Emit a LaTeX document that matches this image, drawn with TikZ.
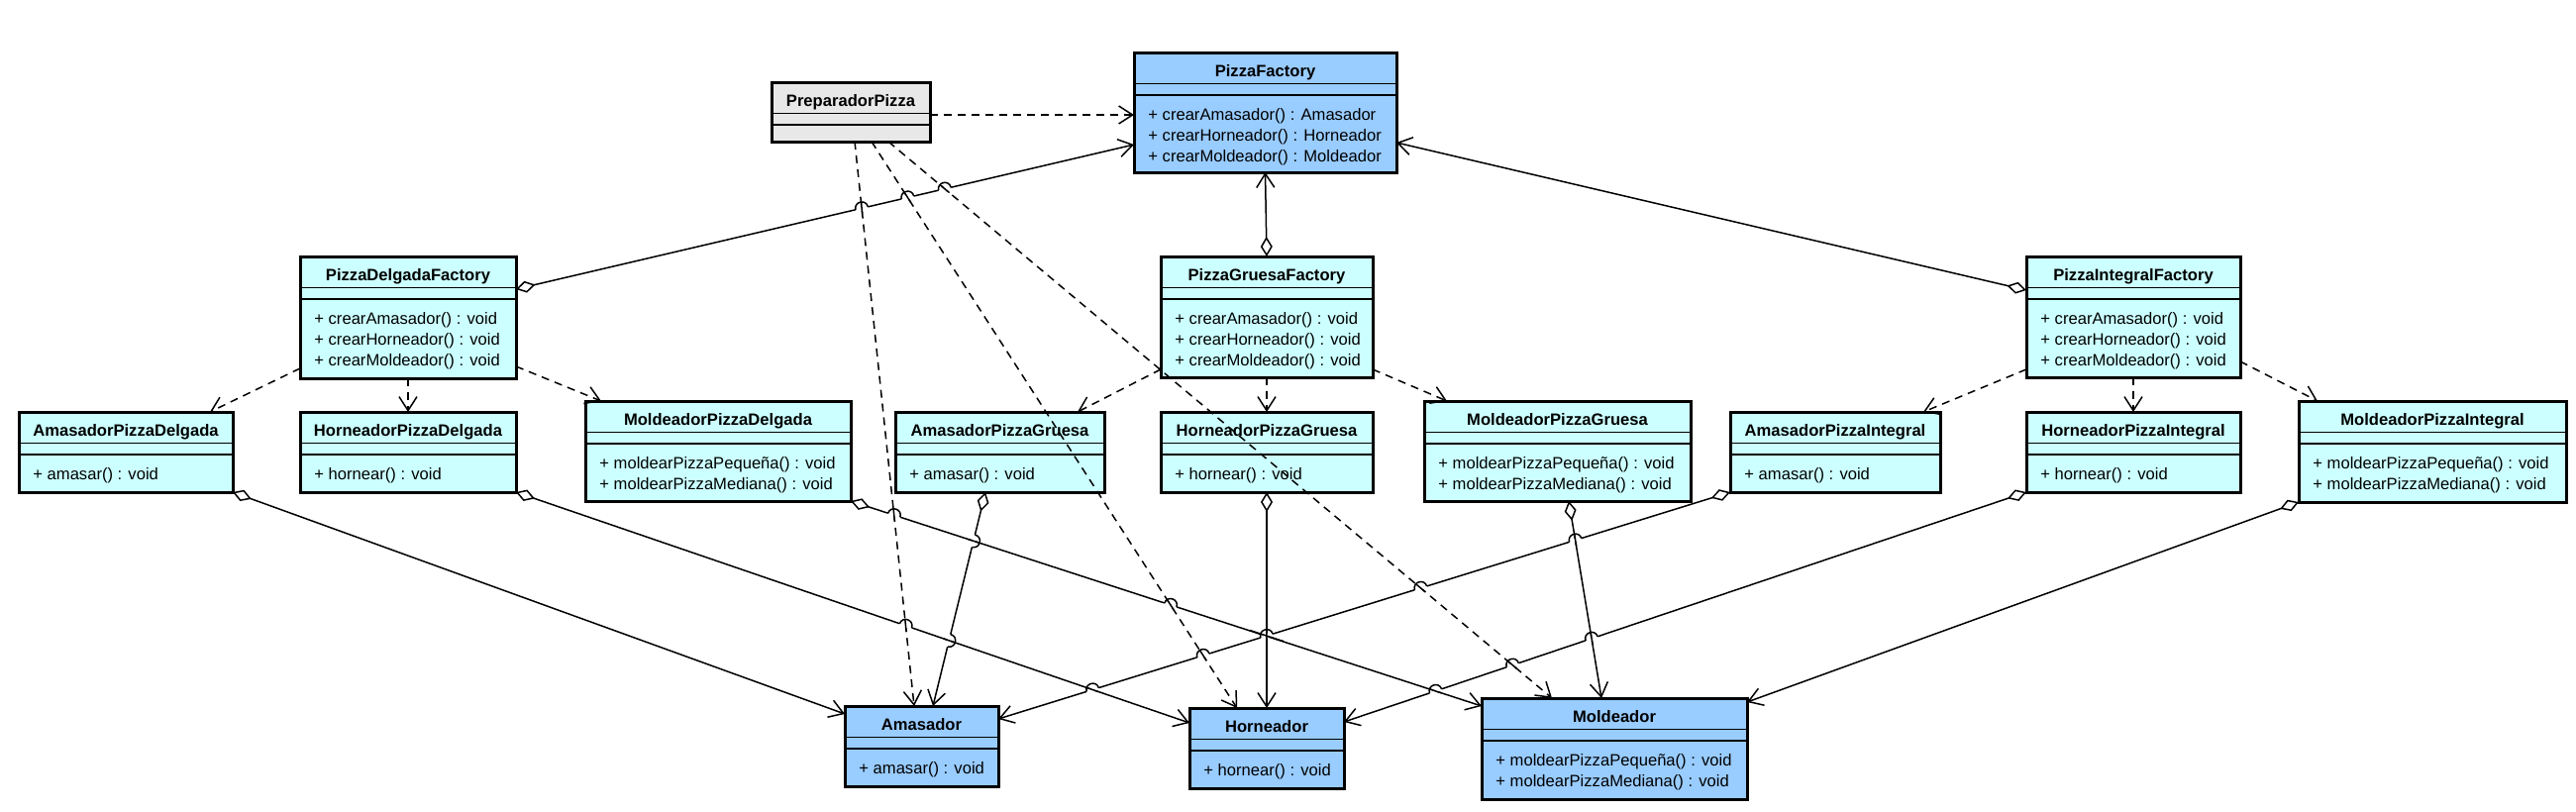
\documentclass[tikz,border=0pt]{standalone}
\usepackage{fontspec}
\setmainfont{Liberation Sans}
\usetikzlibrary{arrows.meta,calc,fit}

\definecolor{abstracta}{RGB}{153,204,255}
\definecolor{concreta}{RGB}{204,255,255}
\definecolor{cliente}{RGB}{232,232,232}

\tikzset{
	caja/.style={draw=black, line width=1.5pt, inner sep=0pt, outer sep=0pt},
	separador/.style={draw=black, line width=0.8pt},
	titulo/.style={font=\fontsize{8.3}{10}\selectfont\bfseries, inner sep=0pt},
	metodos/.style={font=\fontsize{8.3}{10.5}\selectfont, align=left, anchor=north west, inner sep=0pt},
	linea/.style={draw=black, line width=0.75pt},
	dependencia/.style={linea, dash pattern=on 4pt off 3pt, arrows={-Straight Barb[length=7pt,width=9pt]}},
	agregacion/.style={linea, arrows={Diamond[length=10pt,width=6pt,fill=white]-Straight Barb[length=7pt,width=9pt]}},
}

% caja de clase: nombre, x1, y1, x2, y2, relleno, titulo, metodos
\newcommand{\clase}[8]{%
	\node[caja, fill=#6, fit={(#2,#3) (#4,#5)}] (#1) {};
	\draw[separador] ([yshift=-15.75pt]#1.north west) -- ([yshift=-15.75pt]#1.north east);
	\draw[separador] ([yshift=-21.5pt]#1.north west) -- ([yshift=-21.5pt]#1.north east);
	\node[titulo, anchor=base] (#1-t) at ([yshift=-12.25pt]#1.north) {#7};
	\node[metodos] (#1-m) at ([xshift=7pt,yshift=-28pt]#1.north west) {#8};
}

% salto de la linea #1--#2 sobre la linea #3--#4
\newcommand{\salto}[4]{%
	\coordinate (cruce) at (intersection of #1--#2 and #3--#4);
	\draw[white, line width=1.8pt] ($(cruce)!3.2pt!(#1)$) -- ($(cruce)!3.2pt!(#2)$);
	\draw[linea] ($(cruce)!3pt!(#3)$) -- ($(cruce)!3pt!(#4)$);
	\draw[linea] ($(cruce)!3.2pt!(#1)$) to[bend left=90, looseness=1.7] ($(cruce)!3.2pt!(#2)$);
}

\begin{document}
\begin{tikzpicture}[x=0.5pt, y=-0.5pt]
	\useasboundingbox (0,0) rectangle (2601,819);

	% cliente y fabricas
	\clase{prep}{779}{83}{939}{143}{cliente}{PreparadorPizza}{}
	\clase{pf}{1145}{53}{1410}{174}{abstracta}{PizzaFactory}{+ crearAmasador() : Amasador\\+ crearHorneador() : Horneador\\+ crearMoldeador() : Moldeador}
	\clase{dfac}{303}{259}{521}{382}{concreta}{PizzaDelgadaFactory}{+ crearAmasador() : void\\+ crearHorneador() : void\\+ crearMoldeador() : void}
	\clase{gfac}{1172}{259}{1386}{381}{concreta}{PizzaGruesaFactory}{+ crearAmasador() : void\\+ crearHorneador() : void\\+ crearMoldeador() : void}
	\clase{ifac}{2046}{259}{2262}{381}{concreta}{PizzaIntegralFactory}{+ crearAmasador() : void\\+ crearHorneador() : void\\+ crearMoldeador() : void}

	% productos concretos
	\clase{apd}{19}{416}{235}{497}{concreta}{AmasadorPizzaDelgada}{+ amasar() : void}
	\clase{hpd}{303}{416}{521}{497}{concreta}{HorneadorPizzaDelgada}{+ hornear() : void}
	\clase{mpd}{591}{405}{859}{506}{concreta}{MoldeadorPizzaDelgada}{+ moldearPizzaPequeña() : void\\+ moldearPizzaMediana() : void}
	\clase{apg}{904}{416}{1115}{497}{concreta}{AmasadorPizzaGruesa}{+ amasar() : void}
	\clase{hpg}{1172}{416}{1386}{497}{concreta}{HorneadorPizzaGruesa}{+ hornear() : void}
	\clase{mpg}{1438}{405}{1707}{506}{concreta}{MoldeadorPizzaGruesa}{+ moldearPizzaPequeña() : void\\+ moldearPizzaMediana() : void}
	\clase{api}{1747}{416}{1959}{497}{concreta}{AmasadorPizzaIntegral}{+ amasar() : void}
	\clase{hpi}{2046}{416}{2262}{497}{concreta}{HorneadorPizzaIntegral}{+ hornear() : void}
	\clase{mpi}{2321}{405}{2591}{507}{concreta}{MoldeadorPizzaIntegral}{+ moldearPizzaPequeña() : void\\+ moldearPizzaMediana() : void}

	% productos abstractos
	\clase{ama}{853}{713}{1008}{794}{abstracta}{Amasador}{+ amasar() : void}
	\clase{hor}{1201}{715}{1357}{796}{abstracta}{Horneador}{+ hornear() : void}
	\clase{mol}{1496}{705}{1764}{807}{abstracta}{Moldeador}{+ moldearPizzaPequeña() : void\\+ moldearPizzaMediana() : void}

	% puntos de los conectores
	\coordinate (pa1) at ([shift={(84,0)}]prep.south west);
	\coordinate (pa2) at ([shift={(70,0)}]ama.north west);
	\coordinate (ph1) at ([shift={(101,0)}]prep.south west);
	\coordinate (ph2) at ([shift={(48,0)}]hor.north west);
	\coordinate (pm1) at ([shift={(118,0)}]prep.south west);
	\coordinate (pm2) at ([shift={(71,0)}]mol.north west);
	\coordinate (d1) at ([shift={(0,33)}]dfac.north east);
	\coordinate (d2) at ([shift={(0,93)}]pf.north west);
	\coordinate (i1) at ([shift={(0,34)}]ifac.north west);
	\coordinate (i2) at ([shift={(0,91)}]pf.north east);
	\coordinate (a1) at (apd.south east);
	\coordinate (a2) at ([shift={(0,8)}]ama.north west);
	\coordinate (h1) at (hpd.south east);
	\coordinate (h2) at ([shift={(0,15)}]hor.north west);
	\coordinate (m1) at (mpd.south east);
	\coordinate (m2) at ([shift={(0,8)}]mol.north west);
	\coordinate (ag1) at ([shift={(91,0)}]apg.south west);
	\coordinate (ag2) at ([shift={(89,0)}]ama.north west);
	\coordinate (hg1) at (hpg.south);
	\coordinate (hg2) at (hor.north);
	\coordinate (mg1) at ([shift={(146,0)}]mpg.south west);
	\coordinate (mg2) at ([shift={(121,0)}]mol.north west);
	\coordinate (ai1) at (api.south west);
	\coordinate (ai2) at ([shift={(0,13)}]ama.north east);
	\coordinate (hi1) at (hpi.south west);
	\coordinate (hi2) at ([shift={(0,14)}]hor.north east);
	\coordinate (mi1) at (mpi.south west);
	\coordinate (mi2) at ([shift={(0,4)}]mol.north east);

	% herencia por agregacion hacia PizzaFactory
	\draw[agregacion] (d1) -- (d2);
	\draw[agregacion] (gfac.north) -- (pf.south);
	\draw[agregacion] (i1) -- (i2);

	% dependencias de las fabricas
	\draw[dependencia] ([shift={(0,-10)}]dfac.south west) -- ([shift={(193,0)}]apd.north west);
	\draw[dependencia] (dfac.south) -- (hpd.north);
	\draw[dependencia] ([shift={(0,-12)}]dfac.south east) -- ([shift={(16,0)}]mpd.north west);
	\draw[dependencia] ([shift={(0,-8)}]gfac.south west) -- ([shift={(184,0)}]apg.north west);
	\draw[dependencia] (gfac.south) -- (hpg.north);
	\draw[dependencia] ([shift={(0,-8)}]gfac.south east) -- ([shift={(23,0)}]mpg.north west);
	\draw[dependencia] ([shift={(0,-8)}]ifac.south west) -- ([shift={(195,0)}]api.north west);
	\draw[dependencia] (ifac.south) -- (hpi.north);
	\draw[dependencia] ([shift={(0,-16)}]ifac.south east) -- ([shift={(19,0)}]mpi.north west);

	% productos concretos hacia los abstractos
	\draw[agregacion] (a1) -- (a2);
	\draw[agregacion] (h1) -- (h2);
	\draw[agregacion] (m1) -- (m2);
	\draw[agregacion] (ag1) -- (ag2);
	\draw[agregacion] (hg1) -- (hg2);
	\draw[agregacion] (mg1) -- (mg2);
	\draw[agregacion] (ai1) -- (ai2);
	\draw[agregacion] (hi1) -- (hi2);
	\draw[agregacion] (mi1) -- (mi2);

	% dependencias del cliente
	\draw[dependencia] ([shift={(0,33)}]prep.north east) -- ([shift={(0,63)}]pf.north west);
	\draw[dependencia] (pa1) -- (pa2);
	\draw[dependencia] (ph1) -- (ph2);
	\draw[dependencia] (pm1) -- (pm2);

	% saltos en los cruces
	\salto{d1}{d2}{pa1}{pa2}
	\salto{d1}{d2}{ph1}{ph2}
	\salto{d1}{d2}{pm1}{pm2}
	\salto{m1}{m2}{pa1}{pa2}
	\salto{m1}{m2}{ph1}{ph2}
	\salto{h1}{h2}{pa1}{pa2}
	\salto{ag1}{ag2}{m1}{m2}
	\salto{ag1}{ag2}{h1}{h2}
	\salto{ai2}{ai1}{h1}{h2}
	\salto{ai2}{ai1}{ph1}{ph2}
	\salto{ai2}{ai1}{hg1}{hg2}
	\draw[linea] ($(cruce)!9pt!(m1)$) -- ($(cruce)!9pt!(m2)$);
	\salto{ai2}{ai1}{pm1}{pm2}
	\salto{ai2}{ai1}{mg1}{mg2}
	\salto{hi2}{hi1}{m1}{m2}
	\salto{hi2}{hi1}{pm1}{pm2}
	\salto{hi2}{hi1}{mg1}{mg2}
\end{tikzpicture}
\end{document}
